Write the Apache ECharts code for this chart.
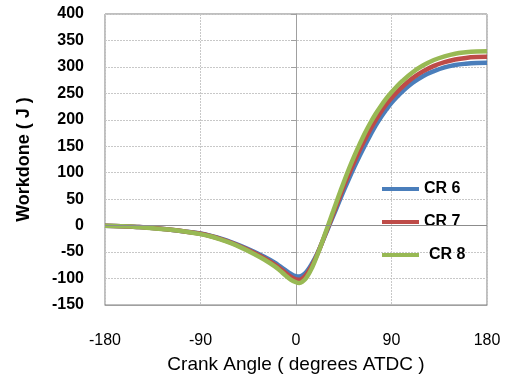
<!DOCTYPE html>
<html lang="en">

<head>
    <meta charset="UTF-8">
    <style>
        html, body { margin: 0; padding: 0; background: #fff; }
        #main { width: 510px; height: 379px; }
    </style>
    <title>Workdone</title>
</head>

<body>
    <div id="main"></div>
    <script src="https://cdn.jsdelivr.net/npm/echarts@6/dist/echarts.min.js"></script>
    <script>
        // crank angle (degrees ATDC)
        var angles = [-180, -165, -150, -135, -120, -105, -90, -80, -70, -60, -50, -40, -30, -20, -15, -10, -5, 0, 3, 6,
            10, 15, 20, 25, 30, 35, 40, 45, 50, 55, 60, 65, 70, 75, 80, 85, 90, 95, 100, 110, 120, 130, 140, 150, 160, 170, 180];

        // workdone (J)
        var cr6 = [0, -1, -2.5, -4.5, -7.5, -11, -15, -19.5, -25, -32, -40, -49, -59, -70, -77, -84, -91, -95.5, -96, -94,
            -87, -72, -53, -30, -6, 18, 42, 66, 89, 111, 132, 152, 171, 189, 205, 219, 232, 243, 253, 270, 283, 292, 299, 303.5, 306, 307.5, 308];
        var cr7 = [0, -1, -2.5, -4.5, -7.5, -11, -15.5, -20, -26, -33, -41.5, -51, -61.5, -73.5, -81, -89, -96.5, -101.5, -102.5, -100,
            -92, -76, -54.5, -29.5, -4, 22, 48, 74, 98, 121, 143, 163, 182, 199, 215, 229, 241, 252, 262, 279, 292, 302, 309, 314, 317, 318.5, 319];
        var cr8 = [0, -1, -2.5, -5, -7.5, -11, -16, -20.5, -27, -34, -43, -53, -64, -77, -85, -94, -102, -107, -108.5, -106,
            -98, -80, -56, -29, -1, 27, 55, 82, 108, 132, 154, 175, 194, 211, 226, 240, 252, 263, 273, 290, 303, 313, 320, 325, 327.5, 329, 329.5];

        var seriesNames = ['CR 6', 'CR 7', 'CR 8'];
        var seriesColors = ['#4a7ebb', '#be4b48', '#98b954'];
        var seriesData = [cr6, cr7, cr8];

        var font = 'Liberation Sans, Arial, sans-serif';

        function pairs(ys) {
            return angles.map(function (a, i) { return [a, ys[i]]; });
        }

        var series = seriesNames.map(function (name, i) {
            var s = {
                name: name,
                type: 'line',
                smooth: 0.4,
                showSymbol: false,
                color: seriesColors[i],
                lineStyle: { width: 4.5, color: seriesColors[i] },
                data: pairs(seriesData[i])
            };
            if (i === 0) {
                // horizontal axis line at y = 0
                s.markLine = {
                    silent: true,
                    symbol: 'none',
                    label: { show: false },
                    lineStyle: { color: '#8c8c8c', width: 1, type: 'solid' },
                    data: [{ yAxis: 0 }]
                };
            }
            return s;
        });

        var option = {
            backgroundColor: '#fff',
            animation: false,
            textStyle: { fontFamily: font },
            grid: {
                left: 105,
                right: 23,
                top: 14,
                bottom: 74,
                show: true,
                borderColor: '#7f7f7f',
                borderWidth: 1
            },
            legend: {
                orient: 'vertical',
                left: 377,
                top: 176,
                itemGap: 17,
                itemWidth: 37,
                itemHeight: 4,
                icon: 'rect',
                textStyle: { fontSize: 16, fontWeight: 'bold', color: '#000', fontFamily: font },
                data: [
                    { name: 'CR 6' },
                    { name: 'CR 7' },
                    { name: 'CR 8', textStyle: { padding: [0, 0, 0, 5] } }
                ]
            },
            xAxis: {
                type: 'value',
                min: -180,
                max: 180,
                interval: 90,
                name: 'Crank Angle ( degrees ATDC )',
                nameLocation: 'middle',
                nameGap: 50,
                nameTextStyle: { fontSize: 19, color: '#000', fontFamily: font },
                axisLine: { onZero: false, lineStyle: { color: '#a0a0a0' } },
                axisTick: { show: false },
                axisLabel: { margin: 28, fontSize: 16, color: '#000', fontFamily: font },
                splitLine: { lineStyle: { color: '#c8c8c8', type: [2, 1] } }
            },
            yAxis: {
                type: 'value',
                min: -150,
                max: 400,
                interval: 50,
                name: 'Workdone ( J )',
                nameLocation: 'middle',
                nameGap: 72,
                nameTextStyle: { fontSize: 18, fontWeight: 'bold', color: '#000', fontFamily: font },
                axisLine: { show: true, lineStyle: { color: '#a0a0a0' } },
                axisTick: { show: true, length: 5, lineStyle: { color: '#a0a0a0' } },
                axisLabel: { margin: 21, fontSize: 16, fontWeight: 'bold', color: '#000', fontFamily: font },
                splitLine: { lineStyle: { color: '#c8c8c8', type: [2, 1] } }
            },
            series: series
        };

        var myChart = echarts.init(document.getElementById('main'));
        myChart.setOption(option);
    </script>
</body>

</html>
